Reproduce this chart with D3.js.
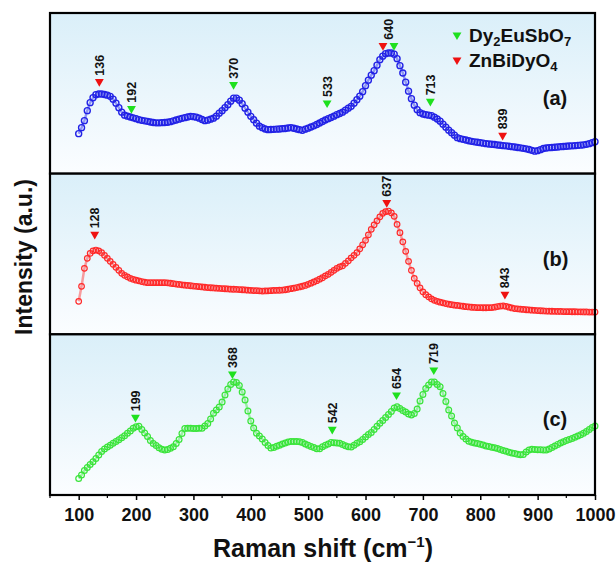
<!DOCTYPE html>
<html>
<head>
<meta charset="utf-8">
<script src="https://cdn.jsdelivr.net/npm/d3@7/dist/d3.min.js"></script>
<style>
  html, body { margin: 0; padding: 0; background: #fff; }
  svg { display: block; font-family: Arial, "Liberation Sans", sans-serif; }
</style>
</head>
<body>
<svg id="chart" width="616" height="562"></svg>
<script>
// Raman shift grid (cm^-1) shared by the three spectra
const shift = d3.range(100, 1001, 5);

// (a) intensity, arbitrary units
const intA = [
  40,46,53,63,71,76,79,79.7,79.7,79.2,
  78.5,77.3,74.5,70.5,66,61.5,58.5,57.5,56.7,55.8,
  55,54,53.3,52.8,52.3,51.7,51.2,50.8,50.8,51,
  51.2,51.4,52,52.8,53.7,54.5,55.3,56,56.7,57.3,
  57,56.5,55.5,54.2,53,53.5,54.5,55.5,57.5,60.5,
  63,66,69,72.5,75.5,75.5,73.5,70,65.5,61.5,
  57.3,54,50.5,47.5,46,44.7,44,44.2,44.3,44.5,
  44.7,45,45.2,45.7,46,45.4,44.7,44,43.3,44.5,
  45.5,46.7,47.8,49.2,50.7,52.2,53.7,55,56.2,57.5,
  59,60.2,61.5,63.5,65.5,67.3,70.5,74,77.5,82,
  88,93.5,98.5,103,108.5,114,117.5,120,120.7,120.7,
  119.5,115,108,100.7,91.5,82.5,75,68.5,64,61,
  59.7,59,58.5,58,56.5,54.7,52.5,49.5,46.5,43.5,
  41,38.5,36,35,34.3,33.6,32.9,32.3,31.8,31.4,
  31,30.5,30,29.7,29.4,29.1,28.7,28.4,28,27.8,
  27.4,27,26.6,26.2,25.8,25.3,24.8,24.1,23.3,22.5,
  23,24,25.2,25.7,26,26.2,26.4,26.7,27,27.2,
  27.4,27.6,27.8,28,28.3,28.5,28.8,29.3,30,31,
  32
];

// (b) intensity, arbitrary units
const intB = [
  33,48,66,76,81,83.5,84.3,83.5,81.7,79,
  76,73,70,67,64,61,59,57.5,56,55,
  54.2,53.5,52.8,52.2,51.7,51.7,51.7,51.7,51.7,51.7,
  51.7,51.5,51.1,50.7,50.3,49.9,49.5,49.2,48.9,48.6,
  48.3,48,47.7,47.4,47.1,46.8,46.6,46.4,46.2,46,
  45.8,45.6,45.4,45.2,45.1,45,44.8,44.6,44.4,44.2,
  44,43.8,43.7,43.5,43.3,43.4,43.5,43.7,43.9,44,
  44.1,44.3,44.6,45.1,45.7,46.2,46.8,47.4,48.1,48.9,
  50,51.2,52.4,53.7,55.2,56.6,58.5,60,62,64,
  66,67.5,68.5,71,73.5,76.5,79,81.7,85.5,89.5,
  94,99.5,105,109.5,113.5,117.5,121,122.7,123.3,121.5,
  118,110,101.7,92.5,83,73,64,56,51,46.5,
  42.5,39.7,37.5,35.5,34,33,32.2,31.5,30.8,30.2,
  29.7,29.2,28.9,28.5,28.1,27.7,27.4,27.1,26.9,26.7,
  26.7,26.6,26.6,26.7,26.8,27.2,27.8,28.3,28.4,28,
  27.2,26.4,25.8,25.5,25.2,24.9,24.6,24.4,24.2,24,
  23.8,23.6,23.4,23.3,23.2,23.1,23,22.9,22.9,22.8,
  22.7,22.7,22.6,22.6,22.5,22.5,22.4,22.4,22.3,22.3,
  22.3
];

// (c) intensity, arbitrary units
const intC = [
  16.5,20,24.5,27.5,30.5,33.3,36.5,40,43.5,46,
  48,49.7,51.7,53.5,55.3,57.3,59.3,61.7,64,66.7,
  68.2,68.8,65.5,62,58.5,54.5,51.5,49.5,47.3,45.7,
  45,45.4,46.8,48.3,51.5,55.5,61.5,66.5,66.7,66.7,
  66.5,66.5,66.7,66.7,69,71.5,76,81.7,85,88,
  93,100,106,110.5,113,112.5,109.5,103,95,84,
  74,67,61.7,59,56,52.5,49.5,47,47.5,48.7,
  49.8,51,52,53,53.5,53.5,53.4,53.3,52.5,51,
  49.7,48.5,47.4,46.2,46.2,48.2,49.7,51,52.5,52.2,
  52,51.7,50.5,49.3,48.2,48,49.7,51.7,53.3,55.5,
  58,60.5,62.5,65.5,68.7,71.7,74.5,77.5,80.5,83.5,
  87,88.3,86.5,84.5,83,81,80,81.5,86,94,
  100.5,106.5,110,113,113,110.5,108.3,101.5,93.5,85,
  79,72,67,62,58.5,56,53.8,52.8,52,51.4,
  50.8,50,49,48.4,47.8,47.2,46.5,45.5,44.5,43.7,
  42.8,42,41.4,40.8,40.2,40.5,43,45,45.7,45.5,
  45.3,45.2,45.1,45,46,47.5,49,50.6,52,53.3,
  54.4,55.5,56.5,57.8,59,60.2,61.7,63.5,65.5,67.5,
  69
];

// Assigned bands: shift, phase, intensity level of the marker
const peaksA = [
  { shift: 136, phase: "Z", level: 92 },
  { shift: 192, phase: "D", level: 65 },
  { shift: 370, phase: "D", level: 89 },
  { shift: 533, phase: "D", level: 70.7 },
  { shift: 640, phase: "ZD", level: 128 },
  { shift: 713, phase: "D", level: 72.3 },
  { shift: 839, phase: "Z", level: 38.3 }
];
const peaksB = [
  { shift: 128, phase: "Z", level: 100 },
  { shift: 637, phase: "Z", level: 131.7 },
  { shift: 843, phase: "Z", level: 40 }
];
const peaksC = [
  { shift: 199, phase: "D", level: 77.7 },
  { shift: 368, phase: "D", level: 121 },
  { shift: 542, phase: "D", level: 65.7 },
  { shift: 654, phase: "D", level: 100 },
  { shift: 719, phase: "D", level: 125 }
];

const xTicks = [100, 200, 300, 400, 500, 600, 700, 800, 900, 1000];
const xMinorTicks = [50, 150, 250, 350, 450, 550, 650, 750, 850, 950];

const phaseColor = { D: "#1ee01e", Z: "#ee1111" };

const panels = [
  { id: "a", tag: "(a)", values: intA, color: "#2222e6", r: 3, sw: 1.4, peaks: peaksA },
  { id: "b", tag: "(b)", values: intB, color: "#ff2a2a", r: 2.8, sw: 1.2, peaks: peaksB },
  { id: "c", tag: "(c)", values: intC, color: "#3ae43a", r: 2.9, sw: 1.2, peaks: peaksC }
];

const svg = d3.select("#chart");
const plotLeft = 50, plotRight = 595, plotTop = 13, plotBottom = 495;
const panelH = (plotBottom - plotTop) / panels.length;

const x = d3.scaleLinear().domain([50, 1000]).range([plotLeft, plotRight]);

// panel background fade
const defs = svg.append("defs");
const grad = defs.append("linearGradient")
  .attr("id", "panelFill").attr("x1", 0).attr("y1", 0).attr("x2", 0).attr("y2", 1);
grad.append("stop").attr("offset", "0%").attr("stop-color", "#daeff9");
grad.append("stop").attr("offset", "100%").attr("stop-color", "#fbfdff");

const tri = d3.symbol().type(d3.symbolTriangle).size(34);

panels.forEach((p, i) => {
  const y0 = plotTop + i * panelH, y1 = y0 + panelH;
  const y = d3.scaleLinear().domain([0, panelH]).range([y1, y0]);
  const g = svg.append("g");
  const pts = shift.map((s, k) => [s, p.values[k]]);

  g.append("rect")
    .attr("x", plotLeft).attr("y", y0)
    .attr("width", plotRight - plotLeft).attr("height", panelH)
    .attr("fill", "url(#panelFill)");

  // faint trace joining the measured points
  g.append("path")
    .datum(pts)
    .attr("d", d3.line().x(d => x(d[0])).y(d => y(d[1])))
    .attr("fill", "none")
    .attr("stroke", p.color)
    .attr("stroke-opacity", 0.45)
    .attr("stroke-width", 2.5);

  // spectrum as open circles
  g.append("g").selectAll("circle")
    .data(pts)
    .join("circle")
    .attr("cx", d => x(d[0]))
    .attr("cy", d => y(d[1]))
    .attr("r", p.r)
    .attr("fill", "none")
    .attr("stroke", p.color)
    .attr("stroke-width", p.sw);

  // band markers and labels
  p.peaks.forEach(pk => {
    const mx = x(pk.shift), my = y(pk.level);
    const phases = pk.phase.split("");
    phases.forEach((ph, j) => {
      const off = phases.length > 1 ? (j === 0 ? -5.5 : 5.5) : 0;
      g.append("path")
        .attr("d", tri)
        .attr("transform", `translate(${mx + off},${my}) rotate(180)`)
        .attr("fill", phaseColor[ph]);
    });
    g.append("text")
      .attr("transform", `translate(${mx + 4.5},${my - 6}) rotate(-90)`)
      .attr("font-size", 12.5)
      .attr("font-weight", "bold")
      .attr("fill", "#111")
      .text(pk.shift);
  });

  g.append("text")
    .attr("x", x(909)).attr("y", y0 + 92)
    .attr("font-size", 20).attr("font-weight", "bold")
    .attr("fill", "#111")
    .text(p.tag);

  g.append("rect")
    .attr("x", plotLeft).attr("y", y0)
    .attr("width", plotRight - plotLeft).attr("height", panelH)
    .attr("fill", "none").attr("stroke", "#000").attr("stroke-width", 2.2);
});

// legend
const legend = svg.append("g");
const legendItems = [
  { phase: "D", parts: [["Dy", 0], ["2", 1], ["EuSbO", 0], ["7", 1]] },
  { phase: "Z", parts: [["ZnBiDyO", 0], ["4", 1]] }
];
legendItems.forEach((it, i) => {
  const ly = 35 + i * 25;
  legend.append("path").attr("d", tri)
    .attr("transform", `translate(457,${ly}) rotate(180)`)
    .attr("fill", phaseColor[it.phase]);
  const t = legend.append("text")
    .attr("x", 469).attr("y", ly + 7)
    .attr("font-size", 19).attr("font-weight", "bold").attr("fill", "#111");
  let sub = false;
  it.parts.forEach(([s, isSub]) => {
    const ts = t.append("tspan").text(s);
    if (isSub && !sub) { ts.attr("font-size", 13).attr("dy", 4); sub = true; }
    else if (!isSub && sub) { ts.attr("dy", -4); sub = false; }
    else if (isSub) { ts.attr("font-size", 13); }
  });
});

// x axis
const axisG = svg.append("g").attr("transform", `translate(0,${plotBottom})`);
axisG.call(d3.axisBottom(x).tickValues(xTicks).tickFormat(d3.format("d"))
    .tickSize(5).tickPadding(8))
  .call(g => g.select(".domain").remove())
  .call(g => g.selectAll(".tick line").attr("stroke", "#000").attr("stroke-width", 1.5))
  .call(g => g.selectAll(".tick text")
    .attr("font-size", 18).attr("font-weight", "bold")
    .attr("font-family", "Arial, 'Liberation Sans', sans-serif").attr("fill", "#111"));
axisG.append("g").selectAll("line")
  .data(xMinorTicks).join("line")
  .attr("x1", d => x(d)).attr("x2", d => x(d))
  .attr("y1", 0).attr("y2", 3)
  .attr("stroke", "#000").attr("stroke-width", 1.2);

// axis titles
const xt = svg.append("text")
  .attr("x", 323).attr("y", 557)
  .attr("text-anchor", "middle")
  .attr("font-size", 25).attr("font-weight", "bold").attr("fill", "#111");
xt.append("tspan").text("Raman shift (cm");
xt.append("tspan").text("\u22121").attr("font-size", 15).attr("dy", -10);
xt.append("tspan").text(")").attr("dy", 10);

svg.append("text")
  .attr("transform", "translate(32,257) rotate(-90)")
  .attr("text-anchor", "middle")
  .attr("font-size", 23).attr("font-weight", "bold").attr("fill", "#111")
  .text("Intensity (a.u.)");
</script>
</body>
</html>
